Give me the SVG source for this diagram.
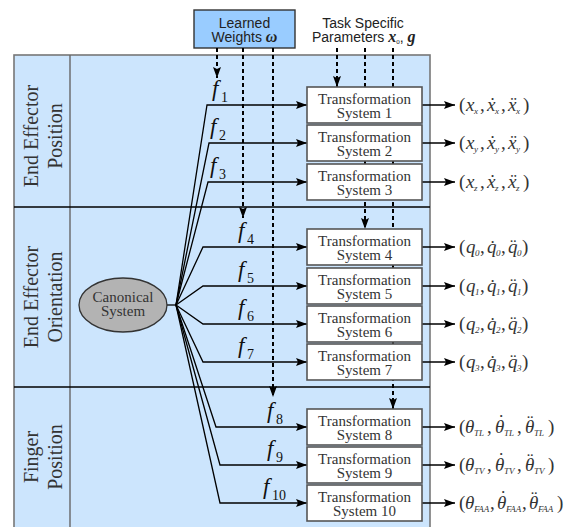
<svg xmlns="http://www.w3.org/2000/svg" width="570" height="527" viewBox="0 0 570 527">
<defs>
<marker id="ah" markerUnits="userSpaceOnUse" markerWidth="12" markerHeight="10" viewBox="0 0 12 10" refX="11" refY="5" orient="auto"><path d="M0,1 L11,5 L0,9 L2,5 Z" fill="#000"/></marker>
</defs>
<style>
.sans{font-family:"Liberation Sans",Arial,sans-serif;font-size:14px;fill:#222}
.ser{font-family:"Liberation Serif","Times New Roman",serif;fill:#333}
.lab{font-size:20px;text-anchor:middle}
.box{fill:#fff;stroke:#555;stroke-width:1.6}
.bt{font-size:15px;text-anchor:middle}
.f{font-family:"Liberation Serif",serif;font-style:italic;font-size:23px;fill:#111}
.fs{font-style:normal;font-size:14px}
.m{font-family:"Liberation Serif",serif;font-size:19px;fill:#333}
.i{font-style:italic}
.s{font-size:9px;font-style:italic}
.d{stroke:#000;stroke-width:2;stroke-dasharray:4 3;fill:none}
.c{stroke:#000;stroke-width:1.3;fill:none}
</style>
<g id="background">
<rect x="14" y="55" width="416" height="480" fill="#cce5fd" stroke="#777" stroke-width="1.6"/>
<line x1="70" y1="55" x2="70" y2="527" stroke="#666" stroke-width="1.4"/>
<line x1="14" y1="207" x2="430" y2="207" stroke="#000" stroke-width="1.3"/>
<line x1="14" y1="387" x2="430" y2="387" stroke="#000" stroke-width="1.3"/>
</g>
<g id="section-labels" class="ser lab">
<text transform="translate(38,136) rotate(-90)">End Effector</text>
<text transform="translate(62,136) rotate(-90)">Position</text>
<text transform="translate(38,297) rotate(-90)">End Effector</text>
<text transform="translate(62,297) rotate(-90)">Orientation</text>
<text transform="translate(38,457) rotate(-90)">Finger</text>
<text transform="translate(62,457) rotate(-90)">Position</text>
</g>
<g id="learned-weights">
<rect x="194" y="10" width="101" height="38" fill="#99ccff" stroke="#333" stroke-width="1.4"/>
<text class="sans" x="244.5" y="28" text-anchor="middle">Learned</text>
<text class="sans" x="244.5" y="42" text-anchor="middle">Weights <tspan font-family="Liberation Serif,serif" font-weight="bold" font-style="italic" font-size="16px">ω</tspan></text>
</g>
<g id="task-parameters">
<text class="sans" x="363" y="28" text-anchor="middle">Task Specific</text>
<text class="sans" x="312" y="42">Parameters <tspan font-family="Liberation Serif,serif" font-weight="bold" font-style="italic" font-size="16px">x</tspan><tspan font-family="Liberation Serif,serif" font-size="7px" dy="2">0</tspan><tspan dy="-2">, </tspan><tspan font-family="Liberation Serif,serif" font-weight="bold" font-style="italic" font-size="16px">g</tspan></text>
</g>
<g id="connectors">
<line class="d" x1="217" y1="48" x2="217" y2="78" marker-end="url(#ah)"/>
<line class="d" x1="243" y1="48" x2="243" y2="218" marker-end="url(#ah)"/>
<line class="d" x1="273" y1="48" x2="273" y2="397" marker-end="url(#ah)"/>
<line class="d" x1="337" y1="48" x2="337" y2="87" marker-end="url(#ah)"/>
<line class="d" x1="365" y1="48" x2="365" y2="229" marker-end="url(#ah)"/>
<line class="d" x1="393" y1="48" x2="393" y2="409" marker-end="url(#ah)"/>
<line class="c" x1="166" y1="305" x2="176" y2="305" stroke-width="1.8"/>
<polyline class="c" points="176,305 207,105 307,105" marker-end="url(#ah)"/>
<polyline class="c" points="176,305 209,143 307,143" marker-end="url(#ah)"/>
<polyline class="c" points="176,305 208,182 307,182" marker-end="url(#ah)"/>
<polyline class="c" points="176,305 203,247 307,247" marker-end="url(#ah)"/>
<polyline class="c" points="176,305 203,286 307,286" marker-end="url(#ah)"/>
<polyline class="c" points="176,305 203,324 307,324" marker-end="url(#ah)"/>
<polyline class="c" points="176,305 203,362 307,362" marker-end="url(#ah)"/>
<polyline class="c" points="176,305 216,427 307,427" marker-end="url(#ah)"/>
<polyline class="c" points="176,305 220,465 307,465" marker-end="url(#ah)"/>
<polyline class="c" points="176,305 220,503 307,503" marker-end="url(#ah)"/>
<line class="c" x1="422" y1="105" x2="455" y2="105" marker-end="url(#ah)"/>
<line class="c" x1="422" y1="143" x2="455" y2="143" marker-end="url(#ah)"/>
<line class="c" x1="422" y1="182" x2="455" y2="182" marker-end="url(#ah)"/>
<line class="c" x1="422" y1="247" x2="455" y2="247" marker-end="url(#ah)"/>
<line class="c" x1="422" y1="286" x2="455" y2="286" marker-end="url(#ah)"/>
<line class="c" x1="422" y1="324" x2="455" y2="324" marker-end="url(#ah)"/>
<line class="c" x1="422" y1="362" x2="455" y2="362" marker-end="url(#ah)"/>
<line class="c" x1="422" y1="427" x2="455" y2="427" marker-end="url(#ah)"/>
<line class="c" x1="422" y1="465" x2="455" y2="465" marker-end="url(#ah)"/>
<line class="c" x1="422" y1="503" x2="455" y2="503" marker-end="url(#ah)"/>
</g>
<g id="canonical-system">
<ellipse cx="123" cy="305" rx="44" ry="27" fill="#b3b3b3" stroke="#333" stroke-width="1.3"/>
<text class="ser bt" x="123" y="302">Canonical</text>
<text class="ser bt" x="123" y="316">System</text>
</g>
<g id="ts1"><rect class="box" x="307" y="87" width="115" height="36"/><text class="ser bt" x="364.5" y="104">Transformation</text><text class="ser bt" x="364.5" y="118">System 1</text></g>
<g id="ts2"><rect class="box" x="307" y="125" width="115" height="36"/><text class="ser bt" x="364.5" y="142">Transformation</text><text class="ser bt" x="364.5" y="156">System 2</text></g>
<g id="ts3"><rect class="box" x="307" y="164" width="115" height="36"/><text class="ser bt" x="364.5" y="181">Transformation</text><text class="ser bt" x="364.5" y="195">System 3</text></g>
<g id="ts4"><rect class="box" x="307" y="229" width="115" height="36"/><text class="ser bt" x="364.5" y="246">Transformation</text><text class="ser bt" x="364.5" y="260">System 4</text></g>
<g id="ts5"><rect class="box" x="307" y="268" width="115" height="36"/><text class="ser bt" x="364.5" y="285">Transformation</text><text class="ser bt" x="364.5" y="299">System 5</text></g>
<g id="ts6"><rect class="box" x="307" y="306" width="115" height="36"/><text class="ser bt" x="364.5" y="323">Transformation</text><text class="ser bt" x="364.5" y="337">System 6</text></g>
<g id="ts7"><rect class="box" x="307" y="344" width="115" height="36"/><text class="ser bt" x="364.5" y="361">Transformation</text><text class="ser bt" x="364.5" y="375">System 7</text></g>
<g id="ts8"><rect class="box" x="307" y="409" width="115" height="36"/><text class="ser bt" x="364.5" y="426">Transformation</text><text class="ser bt" x="364.5" y="440">System 8</text></g>
<g id="ts9"><rect class="box" x="307" y="447" width="115" height="36"/><text class="ser bt" x="364.5" y="464">Transformation</text><text class="ser bt" x="364.5" y="478">System 9</text></g>
<g id="ts10"><rect class="box" x="307" y="485" width="115" height="36"/><text class="ser bt" x="364.5" y="502">Transformation</text><text class="ser bt" x="364.5" y="516">System 10</text></g>
<g id="forcing-labels">
<text class="f" x="212" y="96">f<tspan class="fs" x="221" y="102">1</tspan></text>
<text class="f" x="210" y="134">f<tspan class="fs" x="219" y="140">2</tspan></text>
<text class="f" x="210" y="173">f<tspan class="fs" x="219" y="179">3</tspan></text>
<text class="f" x="238" y="238">f<tspan class="fs" x="247" y="244">4</tspan></text>
<text class="f" x="238" y="277">f<tspan class="fs" x="247" y="283">5</tspan></text>
<text class="f" x="238" y="315">f<tspan class="fs" x="247" y="321">6</tspan></text>
<text class="f" x="238" y="353">f<tspan class="fs" x="247" y="359">7</tspan></text>
<text class="f" x="267" y="418">f<tspan class="fs" x="276" y="424">8</tspan></text>
<text class="f" x="267" y="456">f<tspan class="fs" x="276" y="462">9</tspan></text>
<text class="f" x="263" y="494">f<tspan class="fs" x="272" y="500">10</tspan></text>
</g>
<g id="outputs" class="m">
<text><tspan x="459" y="111">(</tspan><tspan class="i" x="466" y="111">x</tspan><tspan class="s" x="474" y="114">x</tspan><tspan x="480" y="111">,</tspan><tspan class="i" x="487" y="111">ẋ</tspan><tspan class="s" x="495" y="114">x</tspan><tspan x="501" y="111">,</tspan><tspan class="i" x="508" y="111">ẍ</tspan><tspan class="s" x="516" y="114">x</tspan><tspan x="523" y="111">)</tspan></text>
<text><tspan x="459" y="149">(</tspan><tspan class="i" x="466" y="149">x</tspan><tspan class="s" x="474" y="152">y</tspan><tspan x="480" y="149">,</tspan><tspan class="i" x="487" y="149">ẋ</tspan><tspan class="s" x="495" y="152">y</tspan><tspan x="501" y="149">,</tspan><tspan class="i" x="508" y="149">ẍ</tspan><tspan class="s" x="516" y="152">y</tspan><tspan x="523" y="149">)</tspan></text>
<text><tspan x="459" y="188">(</tspan><tspan class="i" x="466" y="188">x</tspan><tspan class="s" x="474" y="191">z</tspan><tspan x="480" y="188">,</tspan><tspan class="i" x="487" y="188">ẋ</tspan><tspan class="s" x="495" y="191">z</tspan><tspan x="501" y="188">,</tspan><tspan class="i" x="508" y="188">ẍ</tspan><tspan class="s" x="516" y="191">z</tspan><tspan x="523" y="188">)</tspan></text>
<text><tspan x="459" y="253">(</tspan><tspan class="i" x="466" y="253">q</tspan><tspan class="s" x="475" y="256">0</tspan><tspan x="480" y="253">,</tspan><tspan class="i" x="487" y="253">q̇</tspan><tspan class="s" x="496" y="256">0</tspan><tspan x="501" y="253">,</tspan><tspan class="i" x="508" y="253">q̈</tspan><tspan class="s" x="517" y="256">0</tspan><tspan x="522" y="253">)</tspan></text>
<text><tspan x="459" y="292">(</tspan><tspan class="i" x="466" y="292">q</tspan><tspan class="s" x="475" y="295">1</tspan><tspan x="480" y="292">,</tspan><tspan class="i" x="487" y="292">q̇</tspan><tspan class="s" x="496" y="295">1</tspan><tspan x="501" y="292">,</tspan><tspan class="i" x="508" y="292">q̈</tspan><tspan class="s" x="517" y="295">1</tspan><tspan x="522" y="292">)</tspan></text>
<text><tspan x="459" y="330">(</tspan><tspan class="i" x="466" y="330">q</tspan><tspan class="s" x="475" y="333">2</tspan><tspan x="480" y="330">,</tspan><tspan class="i" x="487" y="330">q̇</tspan><tspan class="s" x="496" y="333">2</tspan><tspan x="501" y="330">,</tspan><tspan class="i" x="508" y="330">q̈</tspan><tspan class="s" x="517" y="333">2</tspan><tspan x="522" y="330">)</tspan></text>
<text><tspan x="459" y="368">(</tspan><tspan class="i" x="466" y="368">q</tspan><tspan class="s" x="475" y="371">3</tspan><tspan x="480" y="368">,</tspan><tspan class="i" x="487" y="368">q̇</tspan><tspan class="s" x="496" y="371">3</tspan><tspan x="501" y="368">,</tspan><tspan class="i" x="508" y="368">q̈</tspan><tspan class="s" x="517" y="371">3</tspan><tspan x="522" y="368">)</tspan></text>
<text><tspan x="459" y="433">(</tspan><tspan class="i" x="465" y="433">θ</tspan><tspan class="s" x="474" y="436">TL</tspan><tspan x="487" y="433">,</tspan><tspan class="i" x="495" y="433">θ</tspan><tspan x="498" y="428">˙</tspan><tspan class="s" x="504" y="436">TL</tspan><tspan x="517" y="433">,</tspan><tspan class="i" x="525" y="433">θ</tspan><tspan x="527" y="428">¨</tspan><tspan class="s" x="534" y="436">TL</tspan><tspan x="548" y="433">)</tspan></text>
<text><tspan x="459" y="471">(</tspan><tspan class="i" x="465" y="471">θ</tspan><tspan class="s" x="474" y="474">TV</tspan><tspan x="487" y="471">,</tspan><tspan class="i" x="495" y="471">θ</tspan><tspan x="498" y="466">˙</tspan><tspan class="s" x="504" y="474">TV</tspan><tspan x="517" y="471">,</tspan><tspan class="i" x="525" y="471">θ</tspan><tspan x="527" y="466">¨</tspan><tspan class="s" x="534" y="474">TV</tspan><tspan x="548" y="471">)</tspan></text>
<text><tspan x="459" y="509">(</tspan><tspan class="i" x="465" y="509">θ</tspan><tspan class="s" x="474" y="512">FAA</tspan><tspan x="490" y="509">,</tspan><tspan class="i" x="497" y="509">θ</tspan><tspan x="500" y="504">˙</tspan><tspan class="s" x="506" y="512">FAA</tspan><tspan x="522" y="509">,</tspan><tspan class="i" x="529" y="509">θ</tspan><tspan x="531" y="504">¨</tspan><tspan class="s" x="538" y="512">FAA</tspan><tspan x="557" y="509">)</tspan></text>
</g>
</svg>
